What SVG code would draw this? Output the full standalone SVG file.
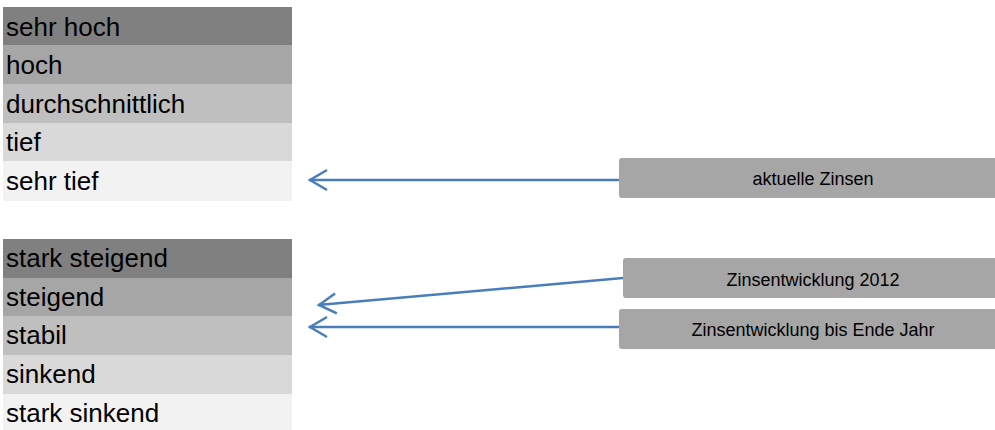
<svg xmlns="http://www.w3.org/2000/svg" width="995" height="430" viewBox="0 0 995 430">
<style>
.t{font-family:"Liberation Sans",Arial,sans-serif;font-size:26px;fill:#000}
.b{font-family:"Liberation Sans",Arial,sans-serif;font-size:18px;fill:#000;text-anchor:middle}
.box{fill:#a6a6a6}
.c1{fill:#808080}.c2{fill:#a6a6a6}.c3{fill:#bfbfbf}.c4{fill:#d9d9d9}.c5{fill:#f2f2f2}
.con{stroke:#4a7ebb;stroke-width:2.5;fill:none;marker-end:url(#arr)}
</style>
<defs>
<marker id="arr" markerUnits="userSpaceOnUse" markerWidth="24" markerHeight="24" viewBox="-22 -12 24 24" refX="0" refY="0" orient="auto">
<path d="M-18,-10 L-1,0 L-18,10" fill="none" stroke="#4a7ebb" stroke-width="2.5"/>
</marker>
</defs>
<g id="table1">
<g id="sehr-hoch"><rect class="c1" x="3" y="7" width="289" height="38"/><text class="t" x="6" y="36">sehr hoch</text></g>
<g id="hoch"><rect class="c2" x="3" y="45" width="289" height="39"/><text class="t" x="6" y="74">hoch</text></g>
<g id="durchschnittlich"><rect class="c3" x="3" y="84" width="289" height="39"/><text class="t" x="6" y="113">durchschnittlich</text></g>
<g id="tief"><rect class="c4" x="3" y="123" width="289" height="38"/><text class="t" x="6" y="151">tief</text></g>
<g id="sehr-tief"><rect class="c5" x="3" y="161" width="289" height="40"/><text class="t" x="6" y="190">sehr tief</text></g>
</g>
<g id="table2">
<g id="stark-steigend"><rect class="c1" x="3" y="239" width="289" height="39"/><text class="t" x="6" y="267">stark steigend</text></g>
<g id="steigend"><rect class="c2" x="3" y="278" width="289" height="38"/><text class="t" x="6" y="306">steigend</text></g>
<g id="stabil"><rect class="c3" x="3" y="316" width="289" height="39"/><text class="t" x="6" y="344">stabil</text></g>
<g id="sinkend"><rect class="c4" x="3" y="355" width="289" height="39"/><text class="t" x="6" y="383">sinkend</text></g>
<g id="stark-sinkend"><rect class="c5" x="3" y="394" width="289" height="40"/><text class="t" x="6" y="422">stark sinkend</text></g>
</g>
<g id="connectors">
<path class="con" d="M619,180 L309,180"/>
<path class="con" d="M623,278 L318,305"/>
<path class="con" d="M619,327 L309,327"/>
</g>
<g id="aktuelle-zinsen"><rect class="box" x="619" y="158" width="390" height="40" rx="3"/><text class="b" x="813" y="185">aktuelle Zinsen</text></g>
<g id="zinsentwicklung-2012"><rect class="box" x="623" y="258" width="390" height="40" rx="3"/><text class="b" x="813" y="286">Zinsentwicklung 2012</text></g>
<g id="zinsentwicklung-ende-jahr"><rect class="box" x="619" y="309" width="390" height="40" rx="3"/><text class="b" x="813" y="336">Zinsentwicklung bis Ende Jahr</text></g>
</svg>
